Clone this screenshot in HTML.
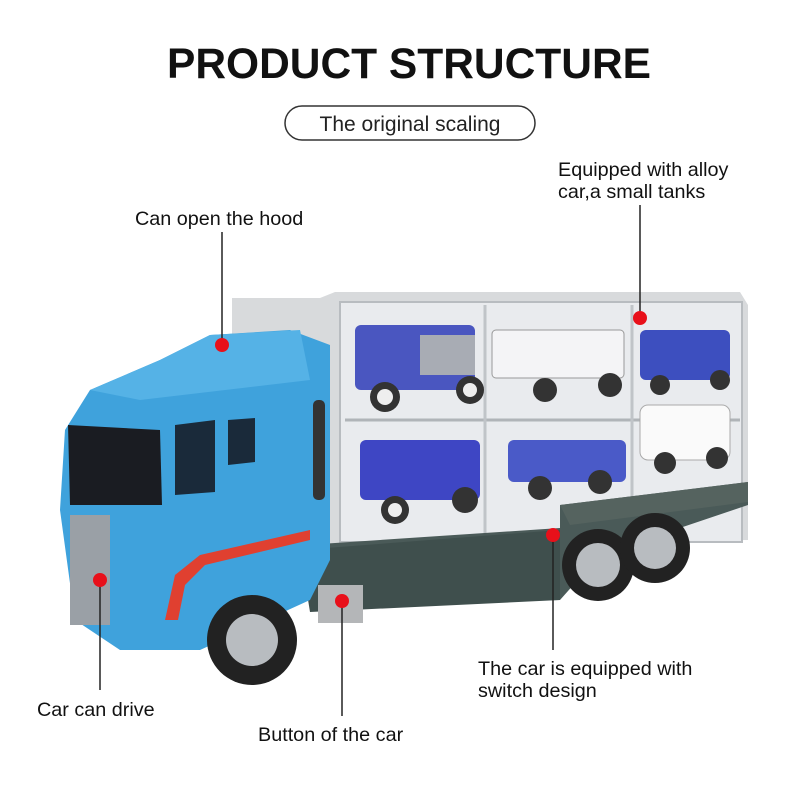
<!DOCTYPE html>
<html><head><meta charset="utf-8"><style>
html,body{margin:0;padding:0;background:#fff;}
svg{display:block;}
text{font-family:"Liberation Sans",sans-serif;}
</style></head><body>
<svg width="800" height="800" viewBox="0 0 800 800" xmlns="http://www.w3.org/2000/svg">
<rect width="800" height="800" fill="#fff"/>
<text x="409" y="78" text-anchor="middle" font-size="42.5" font-weight="bold" fill="#111">PRODUCT STRUCTURE</text>
<rect x="285" y="106" width="250" height="34" rx="17" fill="#fff" stroke="#333" stroke-width="1.5"/>
<text x="410" y="131" text-anchor="middle" font-size="21" fill="#222">The original scaling</text>

<!-- container -->
<path d="M232 298 L320 298 L335 292 L740 292 L748 305 L748 540 L330 545 L232 345 Z" fill="#d8dadc"/>
<rect x="340" y="302" width="402" height="240" fill="#e9ebee" stroke="#b8bcc0" stroke-width="2"/>
<line x1="345" y1="420" x2="740" y2="420" stroke="#b0b4b8" stroke-width="3"/>
<line x1="485" y1="305" x2="485" y2="540" stroke="#c0c4c8" stroke-width="3"/>
<line x1="632" y1="305" x2="632" y2="540" stroke="#c0c4c8" stroke-width="3"/>
<g>
<rect x="355" y="325" width="120" height="65" rx="6" fill="#4a56c0"/><rect x="420" y="335" width="55" height="40" fill="#a8acb4"/>
<circle cx="385" cy="397" r="15" fill="#333"/><circle cx="385" cy="397" r="8" fill="#eee"/>
<circle cx="470" cy="390" r="14" fill="#333"/><circle cx="470" cy="390" r="7" fill="#eee"/>
<rect x="492" y="330" width="132" height="48" rx="4" fill="#f4f4f6" stroke="#999"/>
<circle cx="545" cy="390" r="12" fill="#333"/><circle cx="610" cy="385" r="12" fill="#333"/>
<rect x="640" y="330" width="90" height="50" rx="6" fill="#3d4fbf"/>
<circle cx="660" cy="385" r="10" fill="#333"/><circle cx="720" cy="380" r="10" fill="#333"/>
<rect x="360" y="440" width="120" height="60" rx="6" fill="#3e46c4"/>
<circle cx="395" cy="510" r="14" fill="#333"/><circle cx="395" cy="510" r="7" fill="#eee"/>
<circle cx="465" cy="500" r="13" fill="#333"/>
<rect x="508" y="440" width="118" height="42" rx="6" fill="#4a5ac8"/>
<circle cx="540" cy="488" r="12" fill="#333"/><circle cx="600" cy="482" r="12" fill="#333"/>
<rect x="640" y="405" width="90" height="55" rx="8" fill="#fafafa" stroke="#aaa"/>
<circle cx="665" cy="463" r="11" fill="#333"/><circle cx="717" cy="458" r="11" fill="#333"/>
</g>
<path d="M305 545 L560 528 L560 505 L748 482 L748 505 L600 555 L560 600 L330 605 Z" fill="#4a5a58"/>
<path d="M300 550 L560 530 L560 600 L310 612 Z" fill="#3f4f4d"/>
<path d="M560 505 L748 482 L748 502 L570 525 Z" fill="#55635f"/>
<circle cx="598" cy="565" r="36" fill="#222"/><circle cx="598" cy="565" r="22" fill="#b8bcc0"/>
<circle cx="655" cy="548" r="35" fill="#222"/><circle cx="655" cy="548" r="21" fill="#b8bcc0"/>
<rect x="318" y="585" width="45" height="38" fill="#b4b6b8"/>
<path d="M60 510 L65 430 L90 390 L160 360 L210 335 L290 330 L330 345 L330 560 L310 600 L200 650 L120 650 L75 620 Z" fill="#3fa2dc"/>
<path d="M90 390 L160 360 L210 335 L300 330 L310 380 L140 400 Z" fill="#55b2e6"/>
<path d="M68 425 L160 430 L162 505 L70 505 Z" fill="#1a1c22"/>
<path d="M175 425 L215 420 L215 492 L175 495 Z" fill="#1a2a3a"/>
<path d="M228 420 L255 418 L255 462 L228 465 Z" fill="#1a2a3a"/>
<rect x="70" y="515" width="40" height="110" fill="#9aa0a6"/>
<rect x="313" y="400" width="12" height="100" rx="5" fill="#333"/>
<path d="M165 620 L175 575 L200 555 L310 530 L310 540 L205 565 L185 585 L178 620 Z" fill="#e04030"/>
<circle cx="252" cy="640" r="45" fill="#222"/><circle cx="252" cy="640" r="26" fill="#b8bcc0"/>

<g stroke="#222" stroke-width="1.5">
<line x1="640" y1="205" x2="640" y2="318"/>
<line x1="222" y1="232" x2="222" y2="345"/>
<line x1="100" y1="580" x2="100" y2="690"/>
<line x1="342" y1="600" x2="342" y2="716"/>
<line x1="553" y1="535" x2="553" y2="650"/>
</g>
<g fill="#e8101a">
<circle cx="640" cy="318" r="7"/><circle cx="222" cy="345" r="7"/>
<circle cx="100" cy="580" r="7"/><circle cx="342" cy="601" r="7"/><circle cx="553" cy="535" r="7"/>
</g>
<g font-size="19.8" fill="#111">
<text x="558" y="176">Equipped with alloy</text>
<text x="558" y="198">car,a small tanks</text>
<text x="135" y="225">Can open the hood</text>
<text x="37" y="716">Car can drive</text>
<text x="258" y="741">Button of the car</text>
<text x="478" y="675">The car is equipped with</text>
<text x="478" y="697">switch design</text>
</g>
</svg>
</body></html>
